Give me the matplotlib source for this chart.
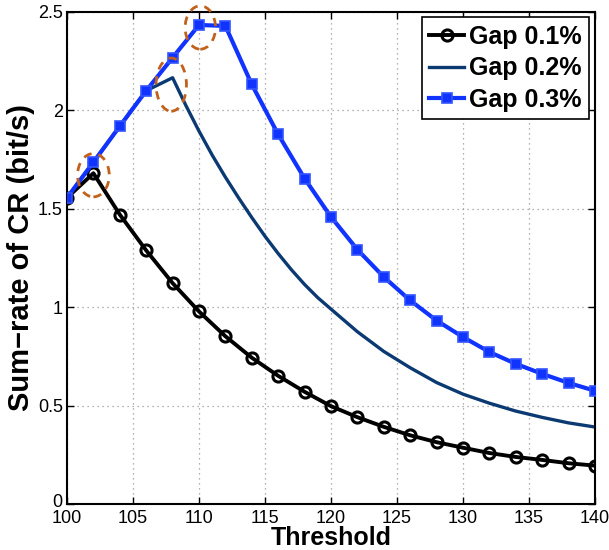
import matplotlib
matplotlib.use("Agg")
import matplotlib.pyplot as plt
import matplotlib.transforms as mtransforms
from matplotlib.patches import Ellipse

plt.rcParams["font.family"] = ["Liberation Sans", "DejaVu Sans"]

threshold = [100, 102, 104, 106, 108, 110, 112, 114, 116, 118, 120,
             122, 124, 126, 128, 130, 132, 134, 136, 138, 140]
gap_01 = [1.555, 1.68, 1.47, 1.288, 1.122, 0.978, 0.852, 0.743, 0.651, 0.570, 0.497,
          0.441, 0.392, 0.349, 0.314, 0.286, 0.259, 0.239, 0.224, 0.207, 0.195]
gap_03 = [1.555, 1.736, 1.919, 2.099, 2.267, 2.433, 2.428, 2.131, 1.877, 1.653, 1.458,
          1.292, 1.153, 1.034, 0.932, 0.848, 0.772, 0.712, 0.661, 0.615, 0.575]

# Gap 0.2% has no markers and is sampled more finely around the peak
threshold_02 = [100, 102, 104, 106, 108, 109, 110, 111, 112, 113, 114, 115, 116, 117,
                118, 119, 120, 122, 124, 126, 128, 130, 132, 134, 136, 138, 140]
gap_02 = [1.555, 1.736, 1.919, 2.099, 2.165, 2.025, 1.894, 1.772, 1.66, 1.555, 1.455,
          1.36, 1.272, 1.19, 1.115, 1.048, 0.99, 0.875, 0.775, 0.692, 0.617, 0.558,
          0.512, 0.472, 0.440, 0.412, 0.391]

labels = ["Gap 0.1%", "Gap 0.2%", "Gap 0.3%"]

# highlighted peaks (center x, center y, width, height)
peaks = [(102, 1.67, 2.4, 0.22), (107.9, 2.13, 2.3, 0.27), (110.1, 2.42, 2.3, 0.22)]

fig = plt.figure(figsize=(6.09, 5.5), dpi=100)
ax = fig.add_axes([0.110, 0.0836, 0.867, 0.895])

ax.plot(threshold, gap_01, color="black", linewidth=2.8, marker="o", markersize=8,
        markerfacecolor="none", markeredgewidth=2.2, label=labels[0], zorder=3)
ax.plot(threshold_02, gap_02, color="#0b3a72", linewidth=2.4, label=labels[1], zorder=2)
ax.plot(threshold, gap_03, color="#1133ff", linewidth=3.0, marker="s", markersize=7.5,
        markerfacecolor="#1133ff", markeredgecolor="#3355ff", markeredgewidth=1.2,
        label=labels[2], zorder=4)

for cx, cy, w, h in peaks:
    ax.add_patch(Ellipse((cx, cy), w, h, fill=False, edgecolor="#c0611c",
                         linestyle=(0, (3, 2.5)), linewidth=2.0, clip_on=False, zorder=5))

ax.set_xlim(100, 140)
ax.set_ylim(0, 2.5)
ax.set_xticks(range(100, 141, 5))
ax.set_yticks([0, 0.5, 1, 1.5, 2, 2.5])
ax.set_yticklabels(["0", "0.5", "1", "1.5", "2", "2.5"])
ax.tick_params(direction="in", top=True, right=True, labelsize=13, length=5, width=1, pad=3)
ax.tick_params(axis="x", pad=4.5)
ax.grid(True, linestyle=(0, (1, 3)), color="#999999", linewidth=0.9)
for s in ax.spines.values():
    s.set_linewidth(1.5)

# lift the "0" a little so it sits just above the "100" as in the original
zero_lbl = ax.get_yticklabels()[0]
zero_lbl.set_transform(zero_lbl.get_transform()
                       + mtransforms.ScaledTranslation(0, 2.5 / 72, fig.dpi_scale_trans))

ax.set_xlabel("Threshold", fontsize=18, fontweight="bold", labelpad=-1)
ax.set_ylabel("Sum\u2212rate of CR (bit/s)", fontsize=21, fontweight="bold", labelpad=2)

leg = ax.legend(loc="upper right", prop={"weight": "bold", "size": 18},
                fancybox=False, edgecolor="black", framealpha=1, handlelength=1.4,
                handletextpad=0.2, borderpad=0.3, labelspacing=0.3, borderaxespad=0.22)
leg.get_frame().set_linewidth(1.2)

fig.savefig("out.png", dpi=100)
